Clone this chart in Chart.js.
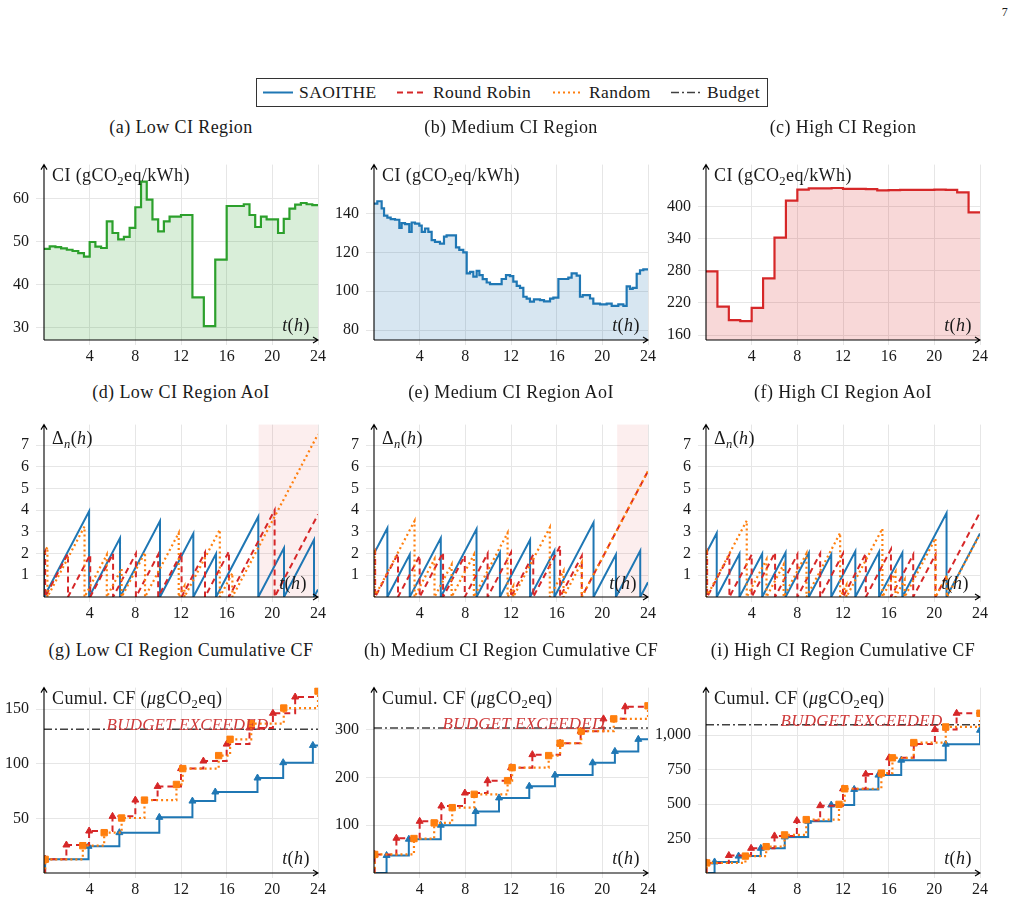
<!DOCTYPE html>
<html lang="en">
<head>
<meta charset="UTF-8">
<title>CI, AoI and cumulative CF per region</title>
<script src="https://cdn.jsdelivr.net/npm/chart.js"></script>
<style>
  body { margin: 0; background: #fff; font-family: "Liberation Serif", serif; color: #1a1a1a; }
  #page { position: relative; width: 1017px; height: 905px; overflow: hidden; }
  canvas { position: absolute; }
  .lbl { position: absolute; white-space: nowrap; line-height: 1; font-size: 18px; letter-spacing: 0.4px; }
  .c { transform: translate(-50%, -50%); }
  .l { transform: translateY(-50%); }
  sub { font-size: 0.7em; vertical-align: -0.3em; line-height: 0; }
  #legend { position: absolute; left: 256px; top: 78px; width: 512px; height: 29px; border: 1px solid #333; box-sizing: border-box; }
  .budget { font-style: italic; font-size: 17px; letter-spacing: 0.2px; color: #cf3a3a; transform: translateX(-50%); }
</style>
</head>
<body>
<div id="page">
  <div class="lbl c" style="left:1005px; top:12px; font-size:12px">7</div>
  <div id="legend"></div>
  <svg id="legendLines" width="1017" height="120" style="position:absolute;left:0;top:0"></svg>
</div>

<script>
// ---------- data ----------
const hourTicks = [4, 8, 12, 16, 20, 24];
const seriesNames = ['SAOITHE', 'Round Robin', 'Random', 'Budget'];

// carbon intensity, low region: half-hour steps starting at t = 0
const ciLow = [48.3, 48.9, 48.7, 48.4, 48.1, 47.8, 47.3, 46.5, 49.9, 48.8,
               48.5, 54.7, 52.0, 50.5, 51.1, 53.2, 58.0, 64.0, 59.8, 55.2,
               52.4, 54.7, 55.8, 55.8, 56.2, 56.2, 37.0, 37.0, 30.3, 30.3,
               45.8, 45.8, 58.3, 58.3, 58.3, 58.7, 56.2, 53.4, 55.8, 55.2,
               55.2, 52.0, 55.3, 57.7, 58.6, 59.0, 58.7, 58.5];
// medium region: irregular step times
const ciMedT = [0, 0.29, 0.67, 0.88, 1.17, 1.46, 1.84, 2.22, 2.42, 2.72,
                3.09, 3.30, 3.59, 3.97, 4.18, 4.47, 4.76, 5.05, 5.34, 5.78,
                6.13, 6.36, 7.18, 7.47, 7.82, 8.12, 8.41, 8.70, 8.99, 9.23,
                9.52, 9.87, 10.16, 10.45, 11.18, 11.56, 11.91, 12.20, 12.50, 12.79,
                13.08, 13.37, 13.66, 14.01, 14.54, 14.89, 15.42, 15.71, 16.15, 17.02,
                17.31, 17.75, 18.04, 18.28, 18.92, 19.21, 19.80, 20.38, 20.82, 21.40,
                21.84, 22.13, 22.42, 22.66, 23.01, 23.30, 23.59];
const ciMed = [145, 146.2, 142.5, 138.8, 137.8, 137, 136.7, 132.5, 135, 134.5,
               130.5, 135.3, 134.7, 133.7, 130.5, 132.2, 130.5, 126.2, 125.3, 124.5,
               128, 128.7, 122.5, 121.2, 120, 109.2, 110, 107.5, 110.5, 108.3,
               106.2, 104.5, 103.7, 103.7, 106.3, 108.3, 107.8, 105, 102.8, 101.7,
               97.2, 96.2, 94.7, 95.8, 95.5, 94.8, 96.2, 96.7, 106.3, 107,
               109.2, 108, 97.2, 98, 96.3, 93.7, 93.3, 93.7, 92.5, 93.3,
               92.5, 102.5, 101.2, 101.7, 109, 110.8, 111.2];
// high region: hourly
const ciHigh = [279, 213, 188, 186, 211, 266, 342, 411, 431.5, 434, 434, 434.5,
                433, 433, 432.5, 430, 430.5, 431, 431, 431, 431.5, 431, 426.5, 389];

// age of information: value at t = 0 and update (reset) times in hours
const aoiStart = 2;
const aoiLowSao  = [0, 3.95, 6.66, 10.16, 13.08, 15.07, 18.77, 21.02, 23.65];
const aoiLowRr   = [0.1, 2.1, 4.05, 6.05, 8.05, 10.0, 12.05, 14.1, 16.2, 20.2];
const aoiLowRnd  = [0.3, 3.55, 5.5, 6.8, 8.85, 11.8, 12.3, 15.4, 16.5];
const aoiMedSao  = [1.17, 3.13, 5.85, 8.98, 11.03, 13.67, 15.8, 19.23, 21.19, 23.32];
const aoiMedRr   = [0.1, 2.1, 4.0, 6.05, 7.95, 9.95, 12.0, 13.95, 16.3, 18.2];
const aoiMedRnd  = [0.05, 3.55, 5.3, 6.8, 8.75, 11.7, 12.2, 15.4, 16.6, 18.2];
const aoiHighSao = [0.94, 2.93, 4.92, 6.97, 9.01, 10.97, 13.08, 15.16, 17.2, 21.07];
const aoiHighRr  = [0.1, 2.05, 4.0, 6.05, 8.0, 10.0, 12.0, 14.0, 16.2, 18.15, 20.1];
const aoiHighRnd = [0.05, 3.57, 5.3, 6.8, 8.8, 11.75, 12.3, 15.45, 16.6, 17.4, 20.1, 21.1];
// shaded part after the budget is exceeded (hours)
const exceededLow = 18.8;
const exceededMed = 21.3;

// cumulative carbon footprint steps (time, value)
const cfLowSaoT  = [0.1, 3.9, 6.6, 10.1, 13.0, 15.0, 18.7, 20.95, 23.55];
const cfLowSaoV  = [12.5, 24.4, 36.9, 50.9, 65.8, 74.1, 86.9, 100.9, 116.7];
const cfLowRrT   = [0.1, 1.96, 3.95, 6.0, 8.0, 9.95, 12.0, 13.96, 16.0, 18.0, 20.05, 22.0];
const cfLowRrV   = [12.5, 25.6, 38.4, 51.8, 66.7, 79.2, 95.5, 102.4, 117.9, 132.7, 146.1, 161];
const cfLowRndT  = [0.1, 3.4, 5.27, 6.8, 8.8, 11.6, 12.15, 15.3, 16.3, 18.15, 21.0, 24];
const cfLowRndV  = [12.5, 25, 36.9, 50.3, 66.7, 81, 95.5, 107.4, 122.3, 136.6, 150.9, 166.4];
const cfMedSaoT  = [1.1, 3.05, 5.85, 8.9, 10.95, 13.6, 15.85, 19.15, 21.1, 23.15];
const cfMedSaoV  = [36.7, 70.7, 100, 128.6, 157.1, 181.6, 204.8, 230.6, 254.4, 279.6];
const cfMedRrT   = [0.06, 1.96, 4.0, 5.9, 7.96, 9.95, 12.0, 13.87, 16.3, 18.1, 20.1, 22.0];
const cfMedRrV   = [38.8, 72.8, 108.2, 140.1, 167.3, 193.2, 220.4, 247.6, 271.4, 296.6, 322.4, 347.6];
const cfMedRndT  = [0.06, 3.5, 5.27, 6.85, 8.78, 11.7, 12.1, 15.3, 16.3, 18.15, 21.0, 24];
const cfMedRndV  = [38.8, 72.1, 104.8, 136.7, 164.6, 193.2, 220.4, 245.6, 271.4, 296.6, 322.4, 349.7];
const cfHighSaoT = [0.75, 2.85, 4.8, 6.9, 8.95, 10.97, 12.98, 15.1, 17.1, 21.0, 24];
const cfHighSaoV = [80, 122.6, 179, 261.7, 375, 492.8, 606, 709.8, 818, 933.8, 1035];
const cfHighRrT  = [0.06, 2.0, 3.95, 6.0, 7.96, 10.0, 12.0, 13.99, 16.04, 18.2, 20.05, 21.95];
const cfHighRrV  = [73, 127, 179, 269, 380, 488, 610, 717, 835, 936, 1040, 1158];
const cfHighRndT = [0.06, 3.45, 5.27, 6.88, 8.78, 11.65, 12.15, 15.36, 16.33, 18.2, 21.0, 24];
const cfHighRndV = [73, 122.6, 191, 276, 387, 497.5, 610.7, 724, 835, 945.6, 1058.7, 1158];
const budgets = [131.5, 303.5, 1075];

const yTicksCI = [[30, 40, 50, 60], [80, 100, 120, 140], [160, 220, 280, 340, 400]];
const yTicksAoI = [1, 2, 3, 4, 5, 6, 7];
const yTicksCF = [[50, 100, 150], [100, 200, 300], [250, 500, 750, 1000]];

const titles = [
  ['(a) Low CI Region', '(b) Medium CI Region', '(c) High CI Region'],
  ['(d) Low CI Region AoI', '(e) Medium CI Region AoI', '(f) High CI Region AoI'],
  ['(g) Low CI Region Cumulative CF', '(h) Medium CI Region Cumulative CF', '(i) High CI Region Cumulative CF']
];

// ---------- look ----------
const FONT = '"Liberation Serif", serif';
const INK = '#1a1a1a';
const GRID = '#e6e6e6';
const BLUE = '#1f77b4', RED = '#d62728', ORANGE = '#ff7f0e', GREEN = '#2ca02c', GREY = '#404040';

const colLeft = [44, 374, 706];
const plotW = 274;
const rowTop = [160, 420, 683];
const rowBottom = [340, 597, 873];
const titleY = [127, 392, 650];
const PAD_L = 60, PAD_T = 12, PAD_R = 16, PAD_B = 30;

const page = document.getElementById('page');

function label(html, x, y, cls, style) {
  const d = document.createElement('div');
  d.className = 'lbl ' + cls;
  d.innerHTML = html;
  d.style.left = x + 'px';
  d.style.top = y + 'px';
  if (style) Object.assign(d.style, style);
  page.appendChild(d);
  return d;
}

const axisArrows = {
  id: 'axisArrows',
  afterDraw(chart) {
    const { ctx, chartArea: a } = chart;
    ctx.save();
    ctx.strokeStyle = '#000';
    ctx.lineWidth = 1.1;
    ctx.beginPath();
    ctx.moveTo(a.left, a.bottom); ctx.lineTo(a.left, a.top);
    ctx.moveTo(a.left, a.bottom); ctx.lineTo(a.right, a.bottom);
    ctx.moveTo(a.left - 3, a.top + 5); ctx.lineTo(a.left, a.top); ctx.lineTo(a.left + 3, a.top + 5);
    ctx.moveTo(a.right - 5, a.bottom - 3); ctx.lineTo(a.right, a.bottom); ctx.lineTo(a.right - 5, a.bottom + 3);
    ctx.stroke();
    ctx.restore();
  }
};

function bandPlugin(from) {
  return {
    id: 'band',
    beforeDatasetsDraw(chart) {
      const { ctx, chartArea: a, scales: { x } } = chart;
      const x0 = x.getPixelForValue(from);
      ctx.save();
      ctx.fillStyle = 'rgba(214,39,40,0.08)';
      ctx.fillRect(x0, a.top, a.right - x0, a.bottom - a.top);
      ctx.restore();
    }
  };
}

function panel(col, row, cfg) {
  const L = colLeft[col], T = rowTop[row], B = rowBottom[row];
  const cv = document.createElement('canvas');
  cv.width = plotW + PAD_L + PAD_R;
  cv.height = (B - T) + PAD_T + PAD_B;
  cv.style.left = (L - PAD_L) + 'px';
  cv.style.top = (T - PAD_T) + 'px';
  page.appendChild(cv);
  const tickFont = { family: FONT, size: 16 };
  const plugins = [axisArrows];
  if (cfg.band !== undefined) plugins.push(bandPlugin(cfg.band));
  const chart = new Chart(cv.getContext('2d'), {
    type: 'line',
    data: { datasets: cfg.datasets },
    options: {
      responsive: false,
      animation: false,
      layout: { padding: { top: PAD_T, right: PAD_R, left: 0, bottom: 0 } },
      plugins: { legend: { display: false }, tooltip: { enabled: false } },
      elements: { point: { radius: 0 }, line: { tension: 0 } },
      scales: {
        x: {
          type: 'linear', min: 0, max: 24,
          afterBuildTicks: s => { s.ticks = hourTicks.map(v => ({ value: v })); },
          afterFit: s => { s.height = PAD_B; },
          grid: { color: GRID, tickLength: 5 },
          border: { display: false },
          ticks: { font: tickFont, color: INK, padding: 2, maxRotation: 0, autoSkip: false }
        },
        y: {
          type: 'linear', min: cfg.min, max: cfg.max,
          afterBuildTicks: s => { s.ticks = cfg.ticks.map(v => ({ value: v })); },
          afterFit: s => { s.width = PAD_L; },
          grid: { color: GRID, tickLength: 8 },
          border: { display: false },
          ticks: { font: tickFont, color: INK, padding: 7, autoSkip: false,
                    callback: v => v.toLocaleString('en-US') }
        }
      }
    },
    plugins
  });
  label(titles[row][col], L + plotW / 2, titleY[row], 'c');
  return { chart, L, top: T - PAD_T };
}

// ---------- row 1: carbon intensity ----------
function holdToEnd(pts) {
  pts.push({ x: 24, y: pts[pts.length - 1].y });
  return pts;
}
function ciSet(pts, color, fillColor) {
  return { data: holdToEnd(pts), borderColor: color, backgroundColor: fillColor,
           fill: 'start', stepped: true, borderWidth: 2.2, pointRadius: 0 };
}
panel(0, 0, { min: 27.05, max: 67.95, ticks: yTicksCI[0],
  datasets: [ciSet(ciLow.map((v, i) => ({ x: i / 2, y: v })), GREEN, 'rgba(44,160,44,0.18)')] });
panel(1, 0, { min: 75, max: 165, ticks: yTicksCI[1],
  datasets: [ciSet(ciMedT.map((t, i) => ({ x: t, y: ciMed[i] })), BLUE, 'rgba(31,119,180,0.18)')] });
panel(2, 0, { min: 150.9, max: 478.2, ticks: yTicksCI[2],
  datasets: [ciSet(ciHigh.map((v, i) => ({ x: i, y: v })), RED, 'rgba(214,39,40,0.18)')] });

// ---------- row 2: age of information ----------
function sawtooth(updates) {
  const pts = [{ x: 0, y: aoiStart }];
  let last = -aoiStart;
  for (const u of updates) {
    pts.push({ x: u, y: u - last });
    pts.push({ x: u, y: 0 });
    last = u;
  }
  pts.push({ x: 24, y: 24 - last });
  return pts;
}
const styleSao = { borderColor: BLUE, borderWidth: 2, order: 3 };
const styleRr = { borderColor: RED, borderWidth: 2, borderDash: [6, 4], order: 2 };
const styleRnd = { borderColor: ORANGE, borderWidth: 2.2, borderDash: [2, 3], order: 1 };
function aoiSets(sao, rr, rnd) {
  return [
    Object.assign({ data: sawtooth(sao) }, styleSao),
    Object.assign({ data: sawtooth(rr) }, styleRr),
    Object.assign({ data: sawtooth(rnd) }, styleRnd)
  ];
}
panel(0, 1, { min: 0, max: 7.94, ticks: yTicksAoI, band: exceededLow,
  datasets: aoiSets(aoiLowSao, aoiLowRr, aoiLowRnd) });
panel(1, 1, { min: 0, max: 7.94, ticks: yTicksAoI, band: exceededMed,
  datasets: aoiSets(aoiMedSao, aoiMedRr, aoiMedRnd) });
panel(2, 1, { min: 0, max: 7.94, ticks: yTicksAoI,
  datasets: aoiSets(aoiHighSao, aoiHighRr, aoiHighRnd) });

// ---------- row 3: cumulative carbon footprint ----------
function cumul(times, values) {
  const pts = [{ x: 0, y: 0, hide: true }];
  times.forEach((t, i) => pts.push({ x: t, y: values[i] }));
  if (times[times.length - 1] < 24) pts.push({ x: 24, y: values[values.length - 1], hide: true });
  return pts;
}
function cfSet(times, values, style, marker, radius) {
  return Object.assign({
    data: cumul(times, values), stepped: true,
    pointStyle: marker,
    pointRadius: c => (c.raw && c.raw.hide) ? 0 : radius,
    pointBackgroundColor: style.borderColor, pointBorderColor: style.borderColor, pointBorderWidth: 1
  }, style);
}
function budgetSet(b) {
  return { data: [{ x: 0, y: b }, { x: 24, y: b }], borderColor: GREY, borderWidth: 1.5,
           borderDash: [8, 3, 2, 3], pointRadius: 0, order: 4 };
}
const cfPanels = [
  panel(0, 2, { min: 0, max: 169.6, ticks: yTicksCF[0], datasets: [
    cfSet(cfLowSaoT, cfLowSaoV, styleSao, 'triangle', 4),
    cfSet(cfLowRrT, cfLowRrV, styleRr, 'triangle', 4),
    cfSet(cfLowRndT, cfLowRndV, styleRnd, 'rect', 4.5),
    budgetSet(budgets[0])] }),
  panel(1, 2, { min: 0, max: 387.8, ticks: yTicksCF[1], datasets: [
    cfSet(cfMedSaoT, cfMedSaoV, styleSao, 'triangle', 4),
    cfSet(cfMedRrT, cfMedRrV, styleRr, 'triangle', 4),
    cfSet(cfMedRndT, cfMedRndV, styleRnd, 'rect', 4.5),
    budgetSet(budgets[1])] }),
  panel(2, 2, { min: 0, max: 1344, ticks: yTicksCF[2], datasets: [
    cfSet(cfHighSaoT, cfHighSaoV, styleSao, 'triangle', 4),
    cfSet(cfHighRrT, cfHighRrV, styleRr, 'triangle', 4),
    cfSet(cfHighRndT, cfHighRndV, styleRnd, 'rect', 4.5),
    budgetSet(budgets[2])] })
];

// ---------- texts inside the panels ----------
const budgetTextX = [143.5, 149.5, 155.5];
cfPanels.forEach((p, i) => {
  const yPix = p.top + p.chart.scales.y.getPixelForValue(budgets[i]);
  label('BUDGET EXCEEDED', p.L + budgetTextX[i], yPix + 1 - 14, 'budget');
});
colLeft.forEach(L => {
  label('CI (gCO<sub>2</sub>eq/kWh)', L + 8, 175, 'l');
  label('<i>t</i>(<i>h</i>)', L + 252, 325, 'c');
  label('&Delta;<sub><i>n</i></sub>(<i>h</i>)', L + 8, 438, 'l');
  label('<i>t</i>(<i>h</i>)', L + 249, 583, 'c');
  label('Cumul. CF (<i>&mu;</i>gCO<sub>2</sub>eq)', L + 8, 698, 'l');
  label('<i>t</i>(<i>h</i>)', L + 252, 858, 'c');
});

// ---------- legend ----------
const legendX = [263, 397, 553, 671];
const legendStyles = [
  { color: BLUE, dash: '', width: 2 },
  { color: RED, dash: '6 4', width: 2 },
  { color: ORANGE, dash: '2 3', width: 2.2 },
  { color: GREY, dash: '8 3 2 3', width: 1.5 }
];
const svg = document.getElementById('legendLines');
seriesNames.forEach((name, i) => {
  const s = legendStyles[i];
  const ln = document.createElementNS('http://www.w3.org/2000/svg', 'line');
  ln.setAttribute('x1', legendX[i]); ln.setAttribute('x2', legendX[i] + 30);
  ln.setAttribute('y1', 92.5); ln.setAttribute('y2', 92.5);
  ln.setAttribute('stroke', s.color); ln.setAttribute('stroke-width', s.width);
  if (s.dash) ln.setAttribute('stroke-dasharray', s.dash);
  svg.appendChild(ln);
  label(name, legendX[i] + 36, 92.5, 'l', { fontSize: '17.5px' });
});
</script>
</body>
</html>
